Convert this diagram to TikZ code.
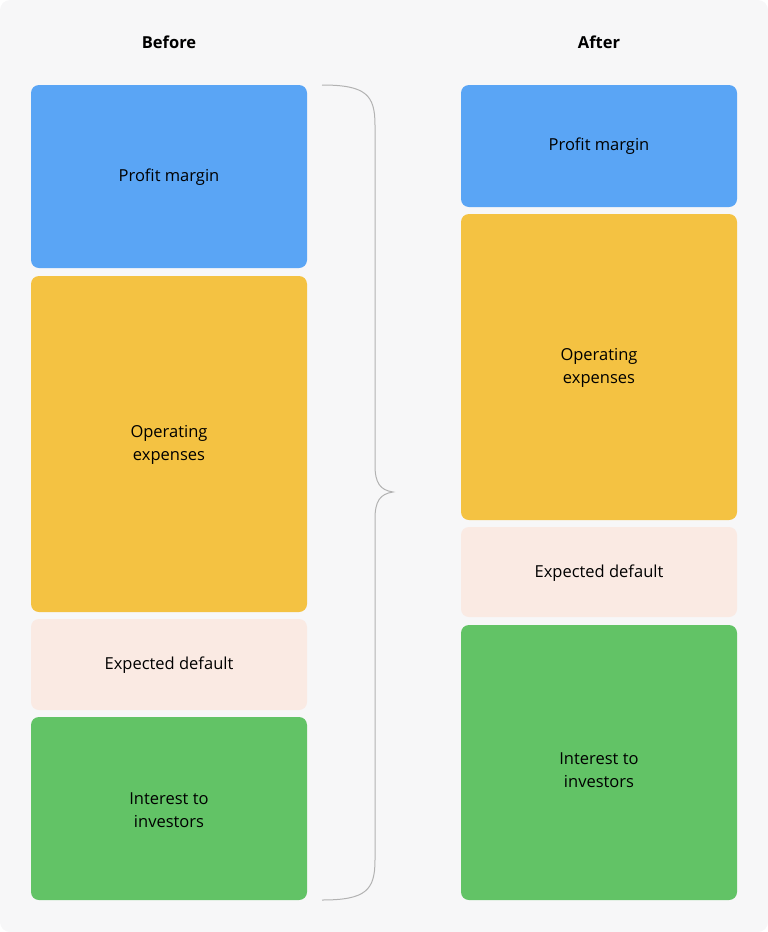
\documentclass[tikz,border=0pt]{standalone}
\usepackage{fontspec}
\setmainfont{Open Sans}
\definecolor{bgcol}{HTML}{F7F7F8}
\definecolor{profitcol}{HTML}{5AA5F5}
\definecolor{opcol}{HTML}{F4C242}
\definecolor{defcol}{HTML}{FAEAE3}
\definecolor{intcol}{HTML}{62C366}
\begin{document}
\begin{tikzpicture}[x=1pt, y=-1pt,
  block/.style={rounded corners=8pt, draw=none},
  lbl/.style={align=center, font=\fontsize{16.5}{23}\selectfont, text=black},
  head/.style={font=\fontsize{16.5}{20}\selectfont\bfseries}]
  % Background
  \fill[bgcol, rounded corners=10pt] (0,0) rectangle (768,932);
  \useasboundingbox (0,0) rectangle (768,932);

  % Headings
  \node[head] (before) at (169,42) {Before};
  \node[head] (after) at (599,42) {After};

  % Before column
  \fill[block, profitcol] (31,85) rectangle (307,268);
  \node[lbl] (bprofit) at (169,177) {Profit margin};
  \fill[block, opcol] (31,276) rectangle (307,612);
  \node[lbl] (bop) at (169,445) {Operating\\expenses};
  \fill[block, defcol] (31,619) rectangle (307,710);
  \node[lbl] (bdef) at (169,665) {Expected default};
  \fill[block, intcol] (31,717) rectangle (307,900);
  \node[lbl] (bint) at (169,810) {Interest to\\investors};

  % After column
  \fill[block, profitcol] (461,85) rectangle (737,207);
  \node[lbl] (aprofit) at (599,146) {Profit margin};
  \fill[block, opcol] (461,214) rectangle (737,520);
  \node[lbl] (aop) at (599,368) {Operating\\expenses};
  \fill[block, defcol] (461,527) rectangle (737,617);
  \node[lbl] (adef) at (599,573) {Expected default};
  \fill[block, intcol] (461,625) rectangle (737,900);
  \node[lbl] (aint) at (599,770) {Interest to\\investors};

  % Brace
  \draw[gray!60, line width=1pt]
    (322,85) .. controls (366,85) and (375,95) .. (375,125)
    -- (375,465) .. controls (375,483) and (380,490) .. (393,492)
    .. controls (380,494) and (375,501) .. (375,519)
    -- (375,860) .. controls (375,890) and (366,900) .. (322,900);
\end{tikzpicture}
\end{document}
